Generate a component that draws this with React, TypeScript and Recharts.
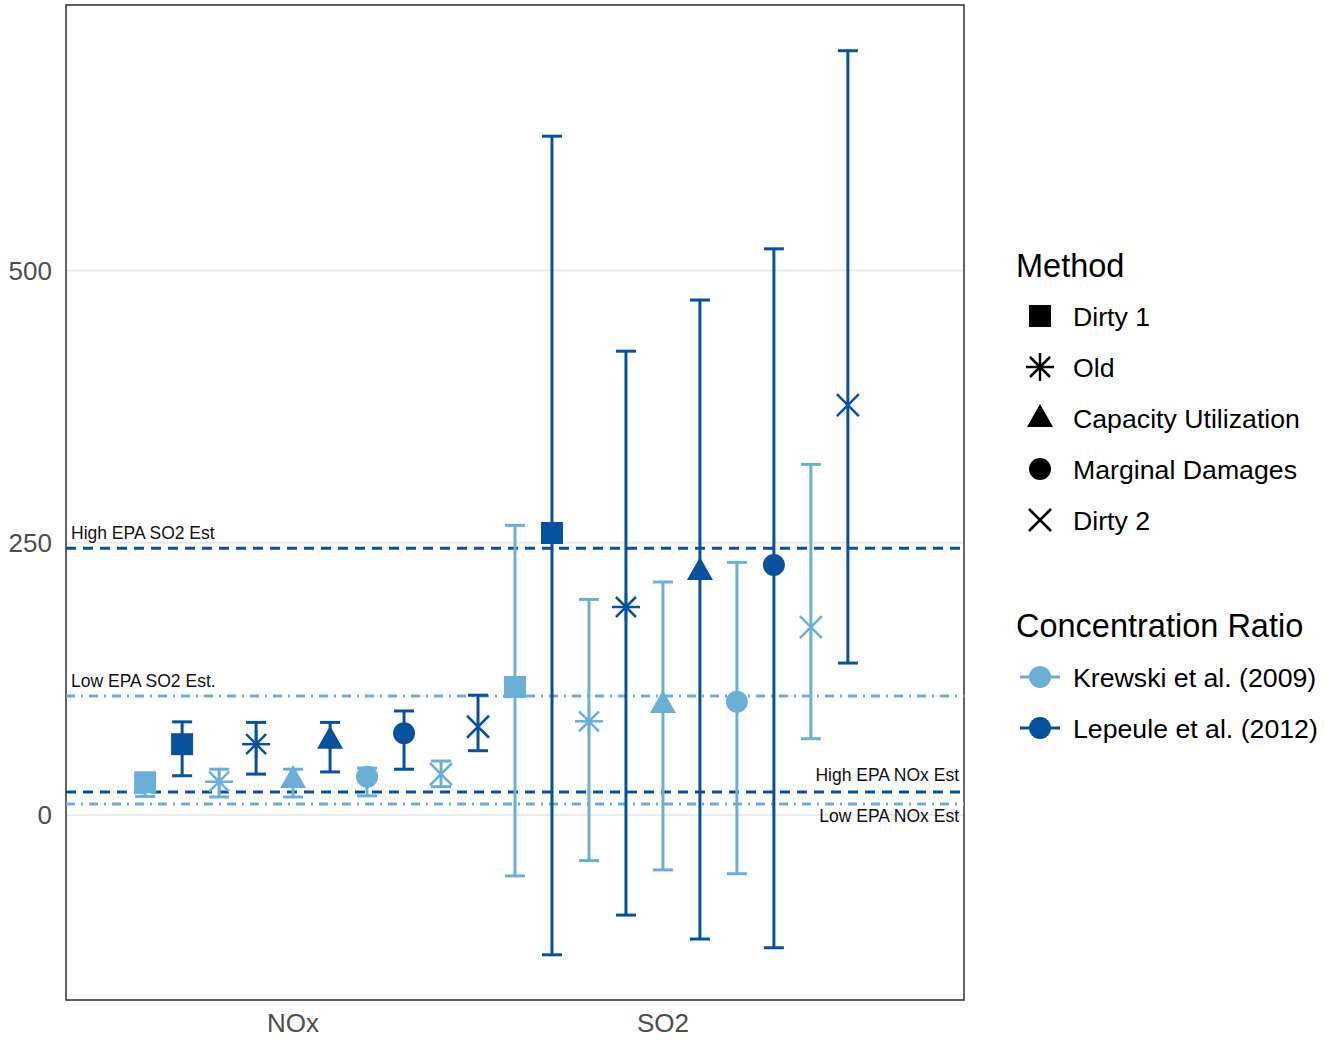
import React from 'react';
import {
  ComposedChart,
  Scatter,
  XAxis,
  YAxis,
  CartesianGrid,
  ReferenceLine,
  ReferenceArea,
  ErrorBar,
} from 'recharts';

// categories
const pollutants = ['NOx', 'SO2'];
const methods = ['Dirty 1', 'Old', 'Capacity Utilization', 'Marginal Damages', 'Dirty 2'];
const ratios = ['Krewski et al. (2009)', 'Lepeule et al. (2012)'];

// estimates per method (order as in `methods`)
const krewskiNOxEst = [30, 30.5, 33, 35, 37.5];
const krewskiNOxLow = [17, 16.5, 16.5, 17.5, 26];
const krewskiNOxHigh = [38, 42, 42, 43, 49.5];
const lepeuleNOxEst = [65, 65, 69, 75, 81];
const lepeuleNOxLow = [36, 37.5, 39.5, 42, 59];
const lepeuleNOxHigh = [85.5, 85, 85, 95.5, 110];

const krewskiSO2Est = [117.5, 86, 102, 104, 172.5];
const krewskiSO2Low = [-56, -42, -50.5, -54, 70];
const krewskiSO2High = [266, 198, 214, 232, 322];
const lepeuleSO2Est = [259, 191, 224, 229.5, 376.5];
const lepeuleSO2Low = [-128.5, -92, -114, -122, 139.5];
const lepeuleSO2High = [623.5, 426, 473, 520, 702];

// EPA reference estimates
const epaLabels = ['High EPA SO2 Est', 'Low EPA SO2 Est.', 'High EPA NOx Est', 'Low EPA NOx Est'];
const epaValues = [245, 109.3, 21, 10];

const yTicks = [0, 250, 500];

const LIGHT = '#6baed6';
const DARK = '#08519c';
const FONT = '"Liberation Sans", Arial, Helvetica, sans-serif';

const X_DOMAIN: [number, number] = [0.386, 2.814];
const Y_DOMAIN: [number, number] = [-170, 744];

const table = [
  [krewskiNOxEst, krewskiNOxLow, krewskiNOxHigh, krewskiSO2Est, krewskiSO2Low, krewskiSO2High],
  [lepeuleNOxEst, lepeuleNOxLow, lepeuleNOxHigh, lepeuleSO2Est, lepeuleSO2Low, lepeuleSO2High],
];

// one series per method x ratio, dodged within each pollutant
const series = methods.flatMap((m, mi) =>
  ratios.map((r, ri) => {
    const [nE, nL, nH, sE, sL, sH] = table[ri];
    const slot = mi * 2 + ri;
    const off = (slot - 4) * 0.1;
    const rows = [
      { x: 1 + off, y: nE[mi], err: [nE[mi] - nL[mi], nH[mi] - nE[mi]] },
      { x: 2 + off, y: sE[mi], err: [sE[mi] - sL[mi], sH[mi] - sE[mi]] },
    ];
    return { key: `${m}-${r}`, method: m, color: ri === 0 ? LIGHT : DARK, rows };
  })
);

const drawMarker = (method: string, cx: number, cy: number, color: string) => {
  switch (method) {
    case 'Dirty 1':
      return <rect x={cx - 11} y={cy - 11} width={22} height={22} fill={color} />;
    case 'Old': {
      const r = 14;
      const d = 10;
      return (
        <g stroke={color} strokeWidth={2.5}>
          <line x1={cx - r} y1={cy} x2={cx + r} y2={cy} />
          <line x1={cx} y1={cy - r} x2={cx} y2={cy + r} />
          <line x1={cx - d} y1={cy - d} x2={cx + d} y2={cy + d} />
          <line x1={cx - d} y1={cy + d} x2={cx + d} y2={cy - d} />
        </g>
      );
    }
    case 'Capacity Utilization':
      return (
        <polygon
          points={`${cx},${cy - 14} ${cx - 13},${cy + 9} ${cx + 13},${cy + 9}`}
          fill={color}
        />
      );
    case 'Marginal Damages':
      return <circle cx={cx} cy={cy} r={11} fill={color} />;
    default: {
      const d = 11;
      return (
        <g stroke={color} strokeWidth={2.5}>
          <line x1={cx - d} y1={cy - d} x2={cx + d} y2={cy + d} />
          <line x1={cx - d} y1={cy + d} x2={cx + d} y2={cy - d} />
        </g>
      );
    }
  }
};

const EpaLabel = ({ viewBox, text, side, dy }: any) => {
  if (!viewBox) return null;
  const x = side === 'left' ? viewBox.x + 5 : viewBox.x + viewBox.width - 5;
  return (
    <text
      x={x}
      y={viewBox.y + dy}
      textAnchor={side === 'left' ? 'start' : 'end'}
      fontSize={17.5}
      fill="#111"
      fontFamily={FONT}
    >
      {text}
    </text>
  );
};

const epaStyle = (i: number) => {
  const high = i % 2 === 0;
  return {
    stroke: high ? DARK : LIGHT,
    dash: high ? '10 7' : '9 6 2 6',
    side: i < 2 ? 'left' : 'right',
    dy: i === 3 ? 18 : i === 2 ? -11 : -9,
  };
};

const MethodLegend = () => (
  <svg width={327} height={520} style={{ position: 'absolute', left: 1010, top: 240 }}>
    <text x={6} y={37} fontSize={32.5} fontFamily={FONT} fill="#000">
      Method
    </text>
    {methods.map((m, i) => {
      const cy = 76 + i * 51;
      return (
        <g key={m}>
          {drawMarker(m, 30, cy, '#000')}
          <text x={63} y={cy + 9.5} fontSize={26.7} fontFamily={FONT} fill="#000">
            {m}
          </text>
        </g>
      );
    })}
    <text x={6} y={397} fontSize={32.5} fontFamily={FONT} fill="#000">
      Concentration Ratio
    </text>
    {ratios.map((r, i) => {
      const cy = 437 + i * 51;
      const c = i === 0 ? LIGHT : DARK;
      return (
        <g key={r}>
          <line x1={10} y1={cy} x2={50} y2={cy} stroke={c} strokeWidth={3} />
          <circle cx={30} cy={cy} r={11} fill={c} />
          <text x={63} y={cy + 9.5} fontSize={26.7} fontFamily={FONT} fill="#000">
            {r}
          </text>
        </g>
      );
    })}
  </svg>
);

const App = () => (
  <div
    style={{
      position: 'absolute',
      left: 0,
      top: 0,
      width: 1337,
      height: 1042,
      background: '#fff',
      fontFamily: FONT,
    }}
  >
    <ComposedChart width={1337} height={1042} margin={{ top: 5, right: 373, bottom: 0, left: 0 }}>
      <CartesianGrid vertical={false} stroke="#ebebeb" strokeWidth={2} />
      <XAxis
        type="number"
        dataKey="x"
        domain={X_DOMAIN}
        ticks={[1, 2]}
        tickFormatter={(v: number) => pollutants[Math.round(v) - 1]}
        tickLine={false}
        axisLine={false}
        height={42}
        tickSize={6}
        tickMargin={8}
        tick={{ fontSize: 26, fill: '#4d4d4d', fontFamily: FONT }}
        allowDataOverflow
      />
      <YAxis
        type="number"
        dataKey="y"
        domain={Y_DOMAIN}
        ticks={yTicks}
        tickLine={false}
        axisLine={false}
        width={66}
        tickSize={6}
        tickMargin={8}
        tick={{ fontSize: 26, fill: '#4d4d4d', fontFamily: FONT }}
        allowDataOverflow
      />
      {epaValues.map((v, i) => {
        const s = epaStyle(i);
        return (
          <ReferenceLine
            key={epaLabels[i]}
            y={v}
            stroke={s.stroke}
            strokeWidth={3}
            strokeDasharray={s.dash}
            label={<EpaLabel text={epaLabels[i]} side={s.side} dy={s.dy} />}
          />
        );
      })}
      {series.map((s) => (
        <Scatter
          key={s.key}
          data={s.rows}
          isAnimationActive={false}
          shape={(p: any) => drawMarker(s.method, p.cx, p.cy, s.color)}
        >
          <ErrorBar dataKey="err" direction="y" width={10} strokeWidth={3} stroke={s.color} />
        </Scatter>
      ))}
      <ReferenceArea
        x1={X_DOMAIN[0]}
        x2={X_DOMAIN[1]}
        y1={Y_DOMAIN[0]}
        y2={Y_DOMAIN[1]}
        fill="none"
        stroke="#333"
        strokeWidth={1.5}
      />
    </ComposedChart>
    <MethodLegend />
  </div>
);

export default App;
